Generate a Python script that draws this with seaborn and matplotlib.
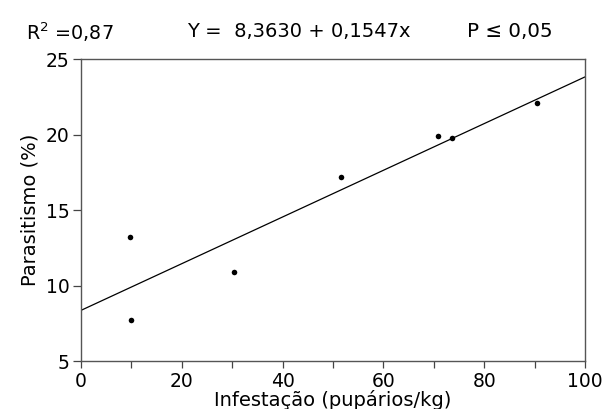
import numpy as np
import pandas as pd
import matplotlib
matplotlib.use("Agg")
import matplotlib.pyplot as plt
from matplotlib.ticker import MultipleLocator
import seaborn as sns

# data
infestacao = [9.7, 9.9, 30.4, 51.6, 70.8, 73.7, 90.5]
parasitismo = [13.2, 7.7, 10.9, 17.2, 19.9, 19.8, 22.1]
intercept = 8.3630
slope = 0.1547
x_ticks = [0, 20, 40, 60, 80, 100]
y_ticks = [5, 10, 15, 20, 25]

sns.set_theme(style="white")
plt.rcParams['font.family'] = ['DejaVu Sans']
plt.rcParams['text.color'] = 'black'
plt.rcParams['axes.labelcolor'] = 'black'

df = pd.DataFrame({"x": infestacao, "y": parasitismo})
line_x = np.array([x_ticks[0], x_ticks[-1]], dtype=float)
line_df = pd.DataFrame({"x": line_x, "y": intercept + slope * line_x})

fig = plt.figure(figsize=(6.04, 4.09), dpi=100)
ax = fig.add_axes([0.134, 0.117, 0.8345, 0.738])

sns.lineplot(data=line_df, x="x", y="y", ax=ax, color="black", linewidth=0.9)
sns.scatterplot(data=df, x="x", y="y", ax=ax, color="black", s=16, edgecolor="black", linewidth=0)

ax.set_xlim(0, 100)
ax.set_ylim(5, 25)
ax.set_xticks(x_ticks)
ax.set_yticks(y_ticks)
ax.xaxis.set_minor_locator(MultipleLocator(10))
ax.tick_params(axis="both", which="both", direction="out", color="#444444", width=0.9,
               labelsize=13.5, labelcolor="black")
ax.tick_params(axis="x", which="both", length=5, bottom=True, pad=3)
ax.tick_params(axis="y", which="major", length=6, left=True, pad=2)
for sp in ax.spines.values():
    sp.set_visible(True)
    sp.set_color("#555555")
    sp.set_linewidth(1.0)

ax.set_xlabel("Infestação (pupários/kg)", fontsize=14, labelpad=-1, color="black")
ax.set_ylabel("Parasitismo (%)", fontsize=14, labelpad=5, color="black")

fig.text(26 / 604, 0.922, r"R$^2$ =0,87", fontsize=13.8, ha="left", va="center", color="black")
fig.text(187 / 604, 0.922, "Y =  8,3630 + 0,1547x", fontsize=14, ha="left", va="center", color="black")
fig.text(467 / 604, 0.922, "P ≤ 0,05", fontsize=14.3, ha="left", va="center", color="black")

fig.savefig("out.png", dpi=100)
